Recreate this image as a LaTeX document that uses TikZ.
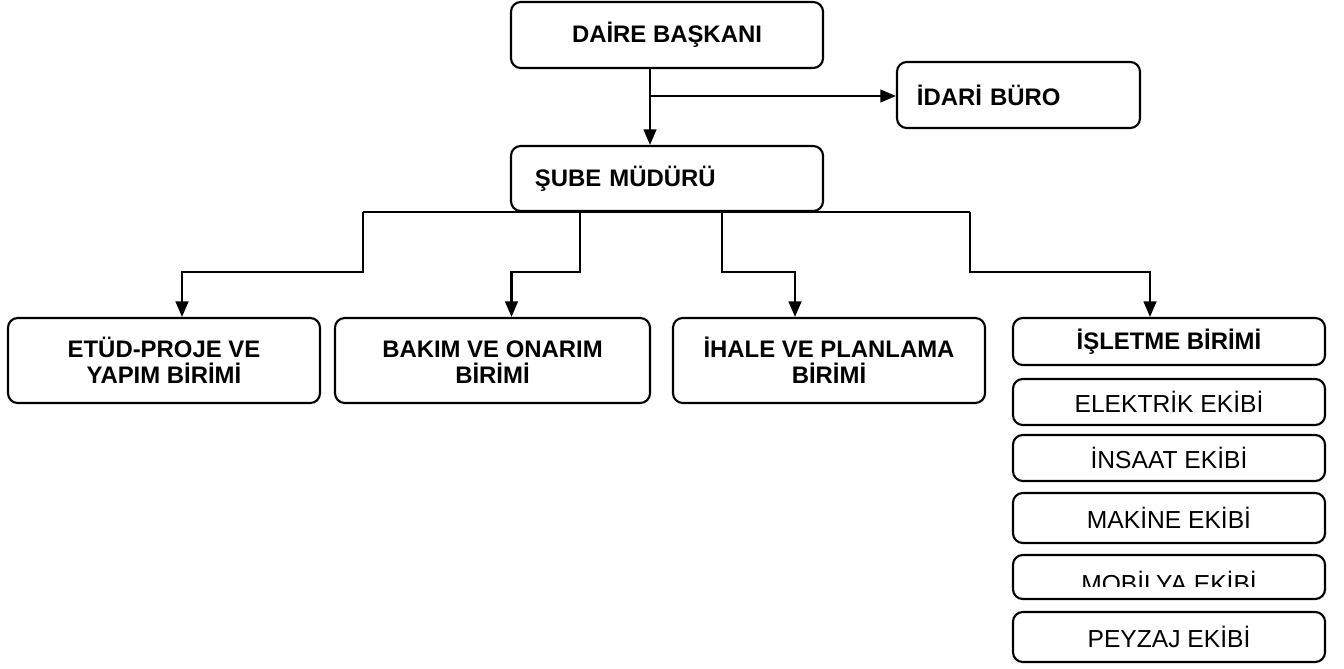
\documentclass[tikz,border=0pt]{standalone}
\usepackage{fontspec}
\setmainfont{Liberation Sans}
\usetikzlibrary{arrows.meta,calc}

\begin{document}
\begin{tikzpicture}[x=0.025cm, y=-0.025cm,
    unit/.style={draw, line width=1.5pt, rounded corners=7pt, align=center,
        inner sep=2pt, font=\fontsize{17}{18.5}\selectfont\bfseries},
    team/.style={unit, font=\fontsize{17.5}{21}\selectfont},
    link/.style={line width=1.5pt},
    arrow/.style={link, -{Triangle[length=11pt,width=9pt]}}]
    \useasboundingbox (0,0) rectangle (1344,669);

    % Top of the chart
    \node[unit, minimum width=7.8cm, minimum height=1.65cm] (daire) at (667,35) {DAİRE BAŞKANI};
    \node[unit, minimum width=6.075cm, minimum height=1.65cm, text width=5.075cm, align=left,
        inner xsep=0.5cm] (idari) at (1018.5,95) {İDARİ BÜRO};
    \node[unit, minimum width=7.8cm, minimum height=1.625cm, text width=6.6cm, align=left,
        inner xsep=0.6cm] (sube) at (667,178.5) {ŞUBE MÜDÜRÜ};

    \coordinate (split) at (650,96);
    \draw[arrow] (daire.south -| split) -- (sube.north -| split);
    \draw[arrow] (split) -- (split -| idari.west);

    % Units
    \node[unit, minimum width=7.8cm, minimum height=2.125cm] (etud) at (164,360.5) {ETÜD-PROJE VE\\YAPIM BİRİMİ};
    \node[unit, minimum width=7.875cm, minimum height=2.125cm] (bakim) at (492.5,360.5) {\vphantom{Ü}BAKIM VE ONARIM\\BİRİMİ};
    \node[unit, minimum width=7.8cm, minimum height=2.125cm] (ihale) at (829,360.5) {\vphantom{Ü}İHALE VE PLANLAMA\\BİRİMİ};
    \node[unit, minimum width=7.8cm, minimum height=1.175cm] (isletme) at (1169,341.5) {İŞLETME BİRİMİ};

    % Teams
    \foreach \name/\y/\h/\txt in {
        elektrik/402/1.15cm/{ELEKTRİK EKİBİ},
        insaat/458/1.15cm/{İNSAAT EKİBİ},
        makine/518/1.25cm/{MAKİNE EKİBİ},
        peyzaj/637/1.25cm/{PEYZAJ EKİBİ}%
    } {
        \node[team, minimum width=7.8cm, minimum height=\h] (\name) at (1169,\y) {\txt};
    }
    \node[team, minimum width=7.8cm, minimum height=1.1cm] (mobilya) at (1169,577) {};
    \begin{scope}
        \clip (mobilya.north west) rectangle (1325,586);
        \node[font=\fontsize{17.5}{21}\selectfont] (mobilyatxt) at (1169,582) {MOBİLYA EKİBİ};
    \end{scope}

    % Branches
    \coordinate (b1) at (363,212);
    \coordinate (b2) at (580,212);
    \coordinate (b3) at (722,212);
    \coordinate (b4) at (970,212);
    \draw[link] (b1) -- (b4);
    \foreach \src/\dst/\dx in {b1/etud/18, b2/bakim/19, b3/ihale/-34, b4/isletme/-19} {
        \draw[arrow] (\src) -- ++(0,60) -| ($(\dst.north)+(\dx,0)$);
    }
\end{tikzpicture}
\end{document}
